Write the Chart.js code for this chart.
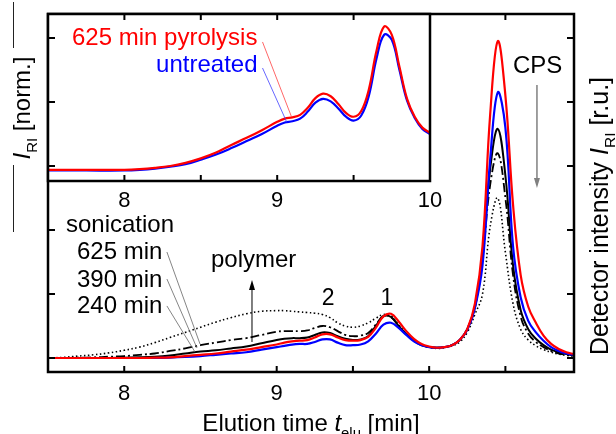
<!DOCTYPE html>
<html>
<head>
<meta charset="utf-8">
<script src="https://cdn.jsdelivr.net/npm/chart.js@4/dist/chart.umd.min.js"></script>
<style>
    html, body { margin: 0; padding: 0; background: #fff; }
    #wrap { position: relative; width: 616px; height: 434px; }
    #wrap canvas { position: absolute; left: 0; top: 0; }
</style>
</head>
<body>
<div id="wrap">
    <canvas id="mainChart" width="616" height="434"></canvas>
    <canvas id="insetChart" width="616" height="434"></canvas>
</div>
<script>
// elution time [min] for the main chromatograms
const elutionTime = [7.5, 7.6, 7.7, 7.8, 7.9, 8.0, 8.1, 8.2, 8.3, 8.4, 8.5, 8.6, 8.7, 8.8, 8.9, 9.0,
    9.05, 9.1, 9.15, 9.2, 9.25, 9.3, 9.35, 9.4, 9.45, 9.5, 9.55, 9.6, 9.65, 9.7, 9.75, 9.8, 9.85, 9.9, 9.95, 10.0,
    10.05, 10.1, 10.15, 10.2, 10.25, 10.3, 10.35, 10.4, 10.45, 10.5, 10.55, 10.6, 10.65, 10.7, 10.75, 10.8, 10.85, 10.9, 10.95];

const pyrolysis625 = [0, 0, 0, 0, 0, 0, 0, 0.005, 0.01, 0.03, 0.05, 0.07, 0.1, 0.13, 0.17, 0.21,
    0.24, 0.26, 0.27, 0.28, 0.32, 0.37, 0.37, 0.32, 0.28, 0.27,
    0.28, 0.33, 0.47, 0.65, 0.69, 0.57, 0.42, 0.3, 0.22, 0.18,
    0.16, 0.17, 0.2, 0.28, 0.45, 0.85, 1.75, 3.8, 4.95, 4.1, 2.4, 1.3, 0.8, 0.55, 0.35, 0.22, 0.14, 0.09, 0.06];

const untreated = [0, 0, 0, 0, 0, 0, 0, 0, 0.005, 0.015, 0.03, 0.05, 0.07, 0.09, 0.13, 0.17,
    0.19, 0.21, 0.22, 0.22, 0.25, 0.29, 0.29, 0.24, 0.2, 0.2,
    0.21, 0.26, 0.38, 0.52, 0.55, 0.47, 0.36, 0.26, 0.2, 0.17,
    0.16, 0.17, 0.2, 0.28, 0.44, 0.78, 1.45, 3.1, 4.15, 3.6, 1.75, 0.95, 0.58, 0.4, 0.27, 0.17, 0.11, 0.07, 0.05];

const sonication240 = [0, 0, 0, 0, 0, 0.005, 0.01, 0.02, 0.04, 0.07, 0.1, 0.12, 0.15, 0.18, 0.23, 0.28,
    0.3, 0.31, 0.31, 0.32, 0.36, 0.4, 0.39, 0.34, 0.3, 0.28,
    0.29, 0.34, 0.5, 0.65, 0.64, 0.5, 0.37, 0.27, 0.2, 0.17,
    0.16, 0.17, 0.2, 0.28, 0.45, 0.8, 1.6, 2.95, 3.58, 2.85, 1.45, 0.75, 0.45, 0.3, 0.2, 0.13, 0.09, 0.06, 0.04];

const sonication390 = [0, 0, 0.005, 0.01, 0.02, 0.03, 0.05, 0.07, 0.11, 0.15, 0.2, 0.24, 0.28, 0.31, 0.36, 0.41,
    0.42, 0.42, 0.42, 0.43, 0.47, 0.5, 0.48, 0.42, 0.36, 0.34,
    0.35, 0.39, 0.52, 0.66, 0.64, 0.5, 0.37, 0.27, 0.2, 0.17,
    0.16, 0.17, 0.2, 0.28, 0.45, 0.78, 1.55, 2.7, 3.2, 2.5, 1.3, 0.65, 0.38, 0.25, 0.17, 0.11, 0.07, 0.05, 0.04];

const sonication625 = [0, 0.01, 0.03, 0.05, 0.08, 0.12, 0.17, 0.24, 0.32, 0.4, 0.48, 0.56, 0.63, 0.69, 0.73, 0.74,
    0.74, 0.73, 0.72, 0.71, 0.7, 0.68, 0.63, 0.55, 0.5, 0.48,
    0.5, 0.55, 0.62, 0.68, 0.66, 0.52, 0.38, 0.27, 0.2, 0.17,
    0.15, 0.16, 0.19, 0.25, 0.4, 0.68, 1.0, 2.05, 2.5, 1.65, 0.85, 0.45, 0.28, 0.19, 0.13, 0.09, 0.06, 0.04, 0.03];

// inset: normalized traces
const insetTime = [7.5, 7.75, 8.0, 8.1, 8.2, 8.3, 8.4, 8.5, 8.6, 8.7, 8.8, 8.9, 9.0,
    9.05, 9.1, 9.15, 9.2, 9.25, 9.3, 9.35, 9.4, 9.45, 9.5, 9.55, 9.6, 9.65, 9.7, 9.75, 9.8, 9.85, 9.9, 9.95, 10.0];
const insetPyrolysis = [-0.06, -0.06, -0.06, -0.05, -0.03, 0.0, 0.05, 0.12, 0.21, 0.33, 0.44, 0.56, 0.69,
    0.74, 0.76, 0.8, 0.91, 1.06, 1.13, 1.09, 0.97, 0.83, 0.77, 0.86, 1.2, 1.8, 2.18, 2.05, 1.55, 1.05, 0.77, 0.6, 0.52];
const insetUntreated = [-0.07, -0.07, -0.07, -0.06, -0.04, -0.01, 0.03, 0.1, 0.18, 0.28, 0.39, 0.5, 0.63,
    0.68, 0.7, 0.74, 0.85, 0.99, 1.05, 1.01, 0.9, 0.77, 0.71, 0.79, 1.1, 1.68, 2.05, 1.97, 1.5, 1.02, 0.75, 0.58, 0.5];

const mainXTicks = [8, 8.5, 9, 9.5, 10, 10.5];
const mainYTicks = [0, 1, 2, 3, 4, 5];
const insetXTicks = [8, 8.5, 9, 9.5];
const insetYTicks = [0, 1, 2];

const FONT = '"Liberation Sans", Arial, Helvetica, sans-serif';

function toPoints(xs, ys) {
    return xs.map((x, i) => ({ x: x, y: ys[i] }));
}

function setFont(ctx, size, italic) {
    ctx.font = (italic ? 'italic ' : '') + size + 'px ' + FONT;
}

// parts: [text, 'n' | 'i' | 's']
function drawRich(ctx, parts, x, y, size, align) {
    const subSize = size * 0.62;
    const widths = parts.map(p => {
        setFont(ctx, p[1] === 's' ? subSize : size, p[1] === 'i');
        return ctx.measureText(p[0]).width;
    });
    const total = widths.reduce((a, b) => a + b, 0);
    let cx = align === 'center' ? x - total / 2 : (align === 'right' ? x - total : x);
    ctx.textAlign = 'left';
    ctx.textBaseline = 'alphabetic';
    parts.forEach((p, i) => {
        setFont(ctx, p[1] === 's' ? subSize : size, p[1] === 'i');
        ctx.fillText(p[0], cx, p[1] === 's' ? y + size * 0.28 : y);
        cx += widths[i];
    });
}

function drawArrow(ctx, x1, y1, x2, y2, color, width) {
    const ang = Math.atan2(y2 - y1, x2 - x1);
    ctx.strokeStyle = color;
    ctx.fillStyle = color;
    ctx.lineWidth = width;
    ctx.beginPath();
    ctx.moveTo(x1, y1);
    ctx.lineTo(x2 - 8 * Math.cos(ang), y2 - 8 * Math.sin(ang));
    ctx.stroke();
    ctx.beginPath();
    ctx.moveTo(x2, y2);
    ctx.lineTo(x2 - 10 * Math.cos(ang) + 3 * Math.sin(ang), y2 - 10 * Math.sin(ang) - 3 * Math.cos(ang));
    ctx.lineTo(x2 - 10 * Math.cos(ang) - 3 * Math.sin(ang), y2 - 10 * Math.sin(ang) + 3 * Math.cos(ang));
    ctx.closePath();
    ctx.fill();
}

function drawLine(ctx, x1, y1, x2, y2, color, width) {
    ctx.strokeStyle = color;
    ctx.lineWidth = width;
    ctx.beginPath();
    ctx.moveTo(x1, y1);
    ctx.lineTo(x2, y2);
    ctx.stroke();
}

function drawFrame(ctx, a, x, y, xTicks, yTicks, both) {
    ctx.strokeStyle = '#000';
    ctx.lineWidth = 2.5;
    ctx.strokeRect(a.left, a.top, a.right - a.left, a.bottom - a.top);
    ctx.lineWidth = 2;
    ctx.beginPath();
    xTicks.forEach(v => {
        const px = x.getPixelForValue(v);
        ctx.moveTo(px, a.bottom);
        ctx.lineTo(px, a.bottom - 6);
        ctx.moveTo(px, a.top);
        ctx.lineTo(px, a.top + 6);
    });
    yTicks.forEach(v => {
        const py = y.getPixelForValue(v);
        ctx.moveTo(a.left, py);
        ctx.lineTo(a.left + 7, py);
        if (both) {
            ctx.moveTo(a.right, py);
            ctx.lineTo(a.right - 7, py);
        }
    });
    ctx.stroke();
}

const mainDecor = {
    id: 'mainDecor',
    afterDraw(chart) {
        const { ctx, chartArea: a } = chart;
        const x = chart.scales.x;
        const y = chart.scales.y;
        const X = v => x.getPixelForValue(v);
        const Y = v => y.getPixelForValue(v);
        ctx.save();
        drawFrame(ctx, a, x, y, mainXTicks, mainYTicks, true);

        ctx.fillStyle = '#000';
        drawRich(ctx, [['Elution time ', 'n'], ['t', 'i'], ['elu', 's'], [' [min]', 'n']],
            (a.left + a.right) / 2, 431, 24, 'center');

        ctx.save();
        ctx.translate(608, 216);
        ctx.rotate(-Math.PI / 2);
        drawRich(ctx, [['Detector intensity ', 'n'], ['I', 'i'], ['RI', 's'], [' [r.u.]', 'n']], 0, 0, 25, 'center');
        ctx.restore();

        // inset axis title on the far left
        ctx.save();
        ctx.translate(30, 108);
        ctx.rotate(-Math.PI / 2);
        drawRich(ctx, [['I', 'i'], ['RI', 's'], [' [norm.]', 'n']], 0, 0, 24, 'center');
        ctx.restore();
        drawLine(ctx, 13.5, 2, 13.5, 48, '#222', 1);
        drawLine(ctx, 13.5, 165, 13.5, 232, '#222', 1);

        // annotations
        ctx.fillStyle = '#000';
        setFont(ctx, 24, false);
        ctx.textAlign = 'left';
        ctx.textBaseline = 'alphabetic';
        ctx.fillText('CPS', X(10.55), Y(4.45));
        ctx.fillText('sonication', X(7.618), Y(1.969));
        ctx.fillText('625 min', X(7.69), Y(1.547));
        ctx.fillText('390 min', X(7.69), Y(1.109));
        ctx.fillText('240 min', X(7.69), Y(0.703));
        ctx.fillText('polymer', X(8.569), Y(1.422));
        ctx.textAlign = 'center';
        setFont(ctx, 23, false);
        ctx.fillText('2', X(9.337), Y(0.828));
        ctx.fillText('1', X(9.723), Y(0.828));

        drawArrow(ctx, X(10.707), Y(4.266), X(10.707), Y(2.656), '#808080', 1.5);
        drawArrow(ctx, X(8.838), Y(0.25), X(8.838), Y(1.219), '#000', 1);

        drawLine(ctx, X(8.28), Y(1.656), X(8.497), Y(0.219), '#666', 0.8);
        drawLine(ctx, X(8.28), Y(1.234), X(8.477), Y(0.156), '#666', 0.8);
        drawLine(ctx, X(8.28), Y(0.813), X(8.464), Y(0.094), '#666', 0.8);
        ctx.restore();
    }
};

const insetDecor = {
    id: 'insetDecor',
    beforeDraw(chart) {
        const { ctx, chartArea: a } = chart;
        ctx.save();
        ctx.fillStyle = '#fff';
        ctx.fillRect(a.left, a.top, a.right - a.left, a.bottom - a.top);
        ctx.restore();
    },
    afterDraw(chart) {
        const { ctx, chartArea: a } = chart;
        const x = chart.scales.x;
        const y = chart.scales.y;
        const X = v => x.getPixelForValue(v);
        const Y = v => y.getPixelForValue(v);
        ctx.save();
        drawFrame(ctx, a, x, y, insetXTicks, insetYTicks, false);

        setFont(ctx, 24, false);
        ctx.textAlign = 'left';
        ctx.textBaseline = 'alphabetic';
        ctx.fillStyle = '#ff0000';
        ctx.fillText('625 min pyrolysis', X(7.657), Y(1.891));
        ctx.fillStyle = '#0000ff';
        ctx.textAlign = 'right';
        ctx.fillText('untreated', X(8.871), Y(1.469));

        drawLine(ctx, X(8.904), Y(1.938), X(9.094), Y(0.766), '#ff4040', 0.8);
        drawLine(ctx, X(8.904), Y(1.531), X(9.062), Y(0.688), '#4040ff', 0.8);
        ctx.restore();
    }
};

const tickFont = { family: FONT, size: 22 };

new Chart(document.getElementById('mainChart'), {
    type: 'line',
    data: {
        datasets: [
            { label: '625 min pyrolysis', data: toPoints(elutionTime, pyrolysis625), borderColor: '#ff0000', borderWidth: 2.2 },
            { label: 'untreated', data: toPoints(elutionTime, untreated), borderColor: '#0000ff', borderWidth: 2.2 },
            { label: 'sonication 240 min', data: toPoints(elutionTime, sonication240), borderColor: '#000000', borderWidth: 2 },
            { label: 'sonication 390 min', data: toPoints(elutionTime, sonication390), borderColor: '#000000', borderWidth: 1.8, borderDash: [9, 3, 2, 3] },
            { label: 'sonication 625 min', data: toPoints(elutionTime, sonication625), borderColor: '#000000', borderWidth: 1.6, borderDash: [1.5, 2.5] }
        ]
    },
    options: {
        responsive: false,
        animation: false,
        devicePixelRatio: 1,
        layout: { padding: { left: 48, top: 14, right: 42, bottom: 0 } },
        elements: { point: { radius: 0 }, line: { tension: 0.4, fill: false } },
        plugins: { legend: { display: false }, tooltip: { enabled: false } },
        scales: {
            x: {
                type: 'linear',
                min: 7.5,
                max: 10.95,
                grid: { display: false, drawTicks: false },
                border: { display: false },
                afterFit: function (scale) { scale.height = 62; },
                ticks: {
                    stepSize: 0.5,
                    autoSkip: false,
                    maxRotation: 0,
                    padding: 9,
                    color: '#000',
                    font: tickFont,
                    callback: v => Number.isInteger(v) ? String(v) : ''
                }
            },
            y: { type: 'linear', min: -0.219, max: 5.375, display: false }
        }
    },
    plugins: [mainDecor]
});

new Chart(document.getElementById('insetChart'), {
    type: 'line',
    data: {
        datasets: [
            { label: '625 min pyrolysis', data: toPoints(insetTime, insetPyrolysis), borderColor: '#ff0000', borderWidth: 2.2 },
            { label: 'untreated', data: toPoints(insetTime, insetUntreated), borderColor: '#0000ff', borderWidth: 2.2 }
        ]
    },
    options: {
        responsive: false,
        animation: false,
        devicePixelRatio: 1,
        layout: { padding: { left: 48, top: 14, right: 186, bottom: 213 } },
        elements: { point: { radius: 0 }, line: { tension: 0.4, fill: false } },
        plugins: { legend: { display: false }, tooltip: { enabled: false } },
        scales: {
            x: {
                type: 'linear',
                min: 7.5,
                max: 10.0,
                grid: { display: false, drawTicks: false },
                border: { display: false },
                afterFit: function (scale) { scale.height = 40; },
                ticks: {
                    stepSize: 0.5,
                    autoSkip: false,
                    maxRotation: 0,
                    padding: 7,
                    color: '#000',
                    font: tickFont,
                    callback: v => Number.isInteger(v) ? String(v) : ''
                }
            },
            y: { type: 'linear', min: -0.234, max: 2.375, display: false }
        }
    },
    plugins: [insetDecor]
});
</script>
</body>
</html>
